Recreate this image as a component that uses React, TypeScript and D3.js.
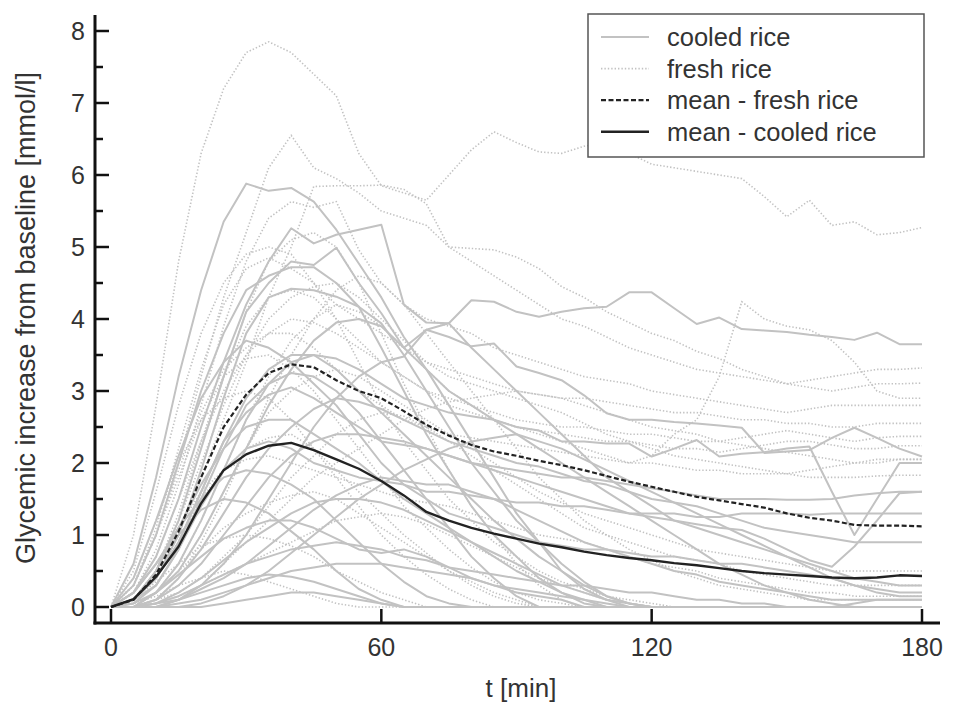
import React from "react";
import * as d3 from "d3";

// time points (min)
const minutes = [0, 5, 10, 15, 20, 25, 30, 35, 40, 45, 50, 55, 60, 65, 70, 75, 80, 85, 90, 95, 100, 105, 110, 115, 120, 125, 130, 135, 140, 145, 150, 155, 160, 165, 170, 175, 180];

const xTicks = [0, 60, 120, 180];
const yTicks = [0, 1, 2, 3, 4, 5, 6, 7, 8];
const yMinorTicks = [0.5, 1.5, 2.5, 3.5, 4.5, 5.5, 6.5, 7.5];

// cooled rice — individual curves
const cooled01 = [0, 0.6, 1.8, 3.2, 4.4, 5.35, 5.88, 5.78, 5.82, 5.63, 5.24, 4.77, 4.3, 3.75, 3.3, 2.8, 2.3, 1.8, 1.3, 0.9, 0.5, 0.25, 0.1, 0, 0, 0, 0, 0, 0, 0, 0, 0, 0, 0, 0, 0, 0];
const cooled02 = [0, 0.2, 0.7, 1.5, 2.5, 3.4, 4.2, 4.8, 5.26, 5.05, 5.17, 5.24, 5.31, 4.2, 3.95, 3.94, 4.26, 4.24, 4.1, 4.03, 4.1, 4.15, 4.17, 4.37, 4.37, 4.15, 3.93, 4.02, 3.86, 3.84, 3.82, 3.78, 3.75, 3.71, 3.81, 3.65, 3.65];
const cooled03 = [0, 0.1, 0.5, 1.2, 2.2, 3.2, 4.1, 4.5, 4.8, 4.75, 4.99, 4.5, 4.08, 3.6, 3.85, 3.75, 3.62, 3.66, 3.34, 3.25, 3.15, 2.94, 2.69, 2.6, 2.6, 2.57, 2.55, 2.52, 2.49, 2.14, 2.16, 2.18, 2.35, 2.49, 2.35, 2.2, 2.09];
const cooled04 = [0, 0.3, 1.0, 2.0, 3.0, 3.8, 4.4, 4.6, 4.72, 4.72, 4.5, 4.17, 3.6, 3.0, 2.4, 1.9, 1.4, 1.0, 0.7, 0.4, 0.2, 0.05, 0, 0, 0, 0, 0, 0, 0, 0, 0, 0, 0, 0, 0, 0, 0];
const cooled05 = [0, 0.1, 0.4, 1.0, 1.9, 2.9, 3.8, 4.3, 4.42, 4.4, 4.31, 4.17, 3.94, 3.5, 3.0, 2.5, 2.0, 1.6, 1.2, 0.9, 0.6, 0.35, 0.15, 0.05, 0, 0, 0, 0, 0, 0, 0, 0, 0, 0, 0, 0, 0];
const cooled06 = [0, 0, 0.2, 0.6, 1.2, 1.9, 2.6, 3.1, 3.4, 3.5, 3.45, 3.3, 3.1, 2.9, 2.8, 2.7, 2.65, 2.6, 2.5, 2.45, 2.3, 2.3, 2.27, 2.27, 2.09, 2.2, 2.32, 2.09, 2.13, 2.15, 2.2, 2.23, 1.6, 1.0, 1.5, 2.0, 2.0];
const cooled07 = [0, 0.1, 0.4, 0.9, 1.6, 2.3, 2.7, 2.95, 3.05, 2.9, 2.7, 2.5, 2.3, 2.25, 2.2, 2.1, 2.0, 1.95, 1.9, 1.85, 1.8, 1.8, 1.75, 1.7, 1.65, 1.6, 1.55, 1.5, 1.5, 1.5, 1.49, 1.49, 1.5, 1.55, 1.58, 1.6, 1.6];
const cooled08 = [0, 0.05, 0.3, 0.8, 1.4, 1.9, 2.2, 2.3, 2.2, 2.0, 1.9, 1.8, 1.75, 1.7, 1.6, 1.6, 1.55, 1.5, 1.45, 1.45, 1.4, 1.4, 1.35, 1.3, 1.3, 1.3, 1.25, 1.25, 1.3, 1.3, 1.3, 1.28, 1.3, 1.3, 1.3, 1.3, 1.3];
const cooled09 = [0, 0, 0.1, 0.3, 0.6, 1.0, 1.4, 1.8, 2.1, 2.3, 2.4, 2.4, 2.35, 2.3, 2.2, 2.1, 2.0, 1.9, 1.8, 1.7, 1.6, 1.5, 1.4, 1.3, 1.25, 1.2, 1.15, 1.1, 1.07, 0.95, 0.8, 0.65, 0.56, 0.84, 1.2, 1.58, 1.6];
const cooled10 = [0, 0.2, 0.6, 1.0, 1.35, 1.5, 1.45, 1.3, 1.05, 0.8, 0.5, 0.25, 0.1, 0, 0, 0, 0, 0, 0, 0, 0, 0, 0, 0, 0, 0, 0, 0, 0, 0, 0, 0, 0, 0, 0, 0, 0];
const cooled11 = [0, 0, 0, 0.1, 0.3, 0.6, 1.0, 1.5, 2.0, 2.5, 2.9, 3.2, 3.4, 3.48, 3.85, 3.94, 3.6, 3.3, 3.0, 2.7, 2.4, 2.1, 1.8, 1.6, 1.4, 1.2, 1.1, 1.0, 0.9, 0.8, 0.7, 0.6, 0.5, 0.4, 0.35, 0.3, 0.3];
const cooled12 = [0, 0.1, 0.3, 0.8, 1.5, 2.2, 2.8, 3.1, 3.25, 3.2, 3.0, 2.7, 2.3, 1.9, 1.5, 1.1, 0.7, 0.4, 0.15, 0, 0, 0, 0, 0, 0, 0, 0, 0, 0, 0, 0, 0, 0, 0, 0, 0, 0];
const cooled13 = [0, 0, 0.2, 0.5, 1.0, 1.6, 2.2, 2.8, 3.3, 3.7, 3.95, 4.0, 3.9, 3.6, 3.3, 3.0, 2.8, 2.6, 2.4, 2.2, 2.0, 1.8, 1.6, 1.4, 1.2, 1.0, 0.8, 0.6, 0.45, 0.3, 0.2, 0.1, 0.05, 0, 0, 0, 0];
const cooled14 = [0, 0, 0.05, 0.15, 0.3, 0.45, 0.6, 0.7, 0.8, 0.85, 0.9, 0.85, 0.8, 0.7, 0.65, 0.55, 0.5, 0.45, 0.4, 0.35, 0.3, 0.3, 0.25, 0.2, 0.2, 0.15, 0.1, 0.1, 0.05, 0.05, 0, 0, 0, 0, 0, 0, 0];
const cooled15 = [0, 0, 0.05, 0.1, 0.2, 0.3, 0.4, 0.45, 0.42, 0.35, 0.25, 0.15, 0.05, 0, 0, 0, 0, 0, 0, 0, 0, 0, 0, 0, 0, 0, 0, 0, 0, 0, 0, 0, 0, 0, 0, 0, 0];
const cooled16 = [0, 0.1, 0.5, 1.1, 1.7, 2.2, 2.5, 2.6, 2.6, 2.4, 2.2, 2.0, 1.75, 1.5, 1.3, 1.1, 0.9, 0.7, 0.5, 0.35, 0.2, 0.1, 0, 0, 0, 0, 0, 0, 0, 0, 0, 0, 0, 0, 0, 0, 0];
const cooled17 = [0, 0, 0, 0.1, 0.25, 0.4, 0.6, 0.85, 1.1, 1.35, 1.55, 1.7, 1.8, 1.75, 1.7, 1.7, 1.6, 1.5, 1.35, 1.2, 1.05, 0.9, 0.8, 0.7, 0.6, 0.5, 0.45, 0.35, 0.3, 0.25, 0.2, 0.15, 0.1, 0.1, 0.1, 0.1, 0.1];
const cooled18 = [0, 0.4, 1.2, 2.1, 2.9, 3.4, 3.7, 3.6, 3.4, 3.1, 2.8, 2.4, 2.0, 1.7, 1.5, 1.3, 1.2, 1.1, 1.0, 0.9, 0.85, 0.8, 0.8, 0.75, 0.7, 0.7, 0.65, 0.6, 0.6, 0.55, 0.5, 0.45, 0.4, 0.3, 0.25, 0.2, 0.2];
const cooled19 = [0, 0.05, 0.2, 0.45, 0.7, 0.95, 1.1, 1.2, 1.2, 1.1, 0.95, 0.8, 0.75, 0.8, 0.7, 0.55, 0.4, 0.3, 0.2, 0.15, 0.1, 0, 0, 0, 0, 0, 0, 0, 0, 0, 0, 0, 0, 0, 0, 0, 0];
const cooled20 = [0, 0, 0, 0, 0.05, 0.15, 0.3, 0.5, 0.75, 1.0, 1.25, 1.5, 1.7, 1.9, 2.05, 2.2, 2.3, 2.35, 2.4, 2.3, 2.2, 2.05, 1.9, 1.75, 1.6, 1.45, 1.3, 1.15, 1.0, 0.85, 0.7, 0.55, 0.4, 0.3, 0.2, 0.15, 0.15];
const cooled21 = [0, 0.1, 0.4, 0.9, 1.6, 2.3, 2.9, 3.3, 3.5, 3.5, 3.3, 3.0, 2.7, 2.4, 2.1, 1.8, 1.5, 1.2, 0.95, 0.7, 0.5, 0.3, 0.15, 0.05, 0, 0, 0, 0, 0, 0, 0, 0, 0, 0, 0, 0, 0];
const cooled22 = [0, 0.2, 0.6, 1.1, 1.5, 1.8, 1.9, 1.85, 1.7, 1.5, 1.2, 0.9, 0.6, 0.35, 0.15, 0.05, 0, 0, 0, 0, 0, 0, 0, 0, 0, 0, 0, 0, 0, 0, 0, 0, 0, 0, 0, 0, 0];
const cooled23 = [0, 0, 0.1, 0.4, 0.8, 1.3, 1.8, 2.2, 2.5, 2.75, 2.9, 2.85, 2.75, 2.6, 2.45, 2.3, 2.2, 2.1, 2.0, 1.95, 1.85, 1.75, 1.7, 1.6, 1.5, 1.45, 1.4, 1.3, 1.2, 1.1, 1.05, 1.0, 0.95, 0.9, 0.9, 0.9, 0.9];
const cooled24 = [0, 0, 0, 0.05, 0.1, 0.2, 0.3, 0.4, 0.5, 0.55, 0.6, 0.6, 0.6, 0.55, 0.5, 0.45, 0.4, 0.3, 0.25, 0.2, 0.15, 0.1, 0.05, 0, 0, 0, 0, 0, 0, 0, 0, 0, 0, 0, 0, 0, 0];
const cooled25 = [0, 0, 0, 0, 0, 0.05, 0.1, 0.15, 0.2, 0.2, 0.15, 0.1, 0.05, 0, 0, 0, 0, 0, 0, 0, 0, 0, 0, 0, 0, 0, 0, 0, 0, 0, 0, 0, 0, 0.05, 0.1, 0.1, 0.1];
const cooled26 = [0, 0, 0.05, 0.2, 0.4, 0.65, 0.9, 1.1, 1.3, 1.45, 1.5, 1.5, 1.45, 1.35, 1.2, 1.05, 0.9, 0.75, 0.6, 0.45, 0.3, 0.2, 0.1, 0.05, 0, 0, 0, 0, 0, 0, 0, 0, 0, 0, 0, 0, 0];

// fresh rice — individual curves
const fresh01 = [0, 1.0, 2.8, 4.8, 6.3, 7.2, 7.7, 7.85, 7.7, 7.4, 7.1, 6.3, 5.85, 5.75, 5.65, 6.0, 6.35, 6.6, 6.45, 6.32, 6.3, 6.4, 6.45, 6.3, 6.15, 6.1, 6.05, 6.0, 5.95, 5.7, 5.42, 5.65, 5.3, 5.35, 5.17, 5.2, 5.27];
const fresh02 = [0, 0.3, 1.0, 2.0, 3.2, 4.3, 5.2, 6.1, 6.55, 6.1, 5.95, 5.75, 5.5, 5.4, 5.3, 5.0, 4.8, 4.6, 4.4, 4.2, 4.0, 3.9, 3.75, 3.6, 3.5, 3.4, 3.3, 3.25, 3.2, 3.15, 3.1, 3.15, 3.2, 3.25, 3.3, 3.3, 3.32];
const fresh03 = [0, 0.1, 0.4, 1.0, 1.8, 2.6, 3.4, 4.3, 5.0, 5.84, 5.85, 5.85, 5.86, 5.8, 5.6, 5.0, 4.98, 4.96, 4.86, 4.7, 4.45, 4.3, 4.1, 3.95, 3.8, 3.7, 3.55, 3.45, 3.3, 3.2, 3.1, 3.05, 3.0, 3.05, 3.1, 3.1, 3.11];
const fresh04 = [0, 0.2, 0.8, 1.7, 2.8, 3.9, 4.8, 5.4, 5.63, 5.55, 5.63, 4.96, 4.5, 4.2, 4.0, 3.9, 3.8, 3.6, 3.5, 3.4, 3.3, 3.2, 3.15, 3.1, 3.0, 2.95, 2.9, 2.85, 2.8, 2.75, 2.7, 2.75, 2.8, 2.8, 2.8, 2.8, 2.8];
const fresh05 = [0, 0.1, 0.5, 1.2, 2.2, 3.2, 4.1, 4.8, 5.1, 5.2, 5.0, 4.5, 3.8, 3.1, 2.5, 1.9, 1.4, 1.0, 0.6, 0.3, 0.1, 0, 0, 0, 0, 0, 0, 0, 0, 0, 0, 0, 0, 0, 0, 0, 0];
const fresh06 = [0, 0.3, 1.1, 2.2, 3.3, 4.2, 4.7, 4.85, 4.7, 4.5, 4.2, 4.0, 3.8, 3.6, 3.4, 3.3, 3.2, 3.1, 3.0, 2.95, 2.9, 2.9, 2.85, 2.8, 2.75, 2.7, 2.7, 2.65, 2.6, 2.6, 2.55, 2.55, 2.5, 2.5, 2.55, 2.55, 2.55];
const fresh07 = [0, 0.1, 0.5, 1.3, 2.3, 3.2, 3.9, 4.3, 4.4, 4.3, 4.0, 3.7, 3.4, 3.2, 3.0, 2.9, 2.8, 2.7, 2.6, 2.55, 2.5, 2.5, 2.45, 2.4, 2.4, 2.35, 2.3, 2.3, 2.35, 2.4, 2.45, 2.4, 2.35, 2.3, 2.35, 2.37, 2.37];
const fresh08 = [0, 0, 0.2, 0.6, 1.2, 1.9, 2.6, 3.2, 3.7, 4.0, 4.2, 4.1, 3.9, 3.6, 3.3, 3.0, 2.8, 2.6, 2.5, 2.4, 2.3, 2.2, 2.1, 2.0, 2.1, 2.4, 2.6, 3.2, 4.24, 4.0, 3.9, 3.85, 3.7, 3.4, 3.0, 2.9, 2.9];
const fresh09 = [0, 0.2, 0.7, 1.5, 2.3, 3.0, 3.5, 3.8, 4.0, 3.95, 3.8, 3.6, 3.4, 3.2, 3.0, 2.8, 2.7, 2.6, 2.5, 2.45, 2.4, 2.35, 2.3, 2.3, 2.25, 2.2, 2.2, 2.15, 2.2, 2.25, 2.3, 2.3, 2.25, 2.2, 2.2, 2.24, 2.24];
const fresh10 = [0, 0.3, 1.0, 1.9, 2.7, 3.3, 3.6, 3.8, 3.8, 3.6, 3.3, 3.0, 2.8, 2.6, 2.5, 2.4, 2.35, 2.3, 2.25, 2.2, 2.15, 2.1, 2.05, 2.0, 2.0, 1.95, 1.9, 1.9, 1.85, 1.85, 1.85, 1.8, 1.8, 1.8, 1.82, 1.83, 1.83];
const fresh11 = [0, 0.3, 1.0, 1.8, 2.6, 3.2, 3.45, 3.5, 3.3, 3.0, 2.6, 2.2, 1.8, 1.4, 1.1, 0.8, 0.55, 0.35, 0.2, 0.1, 0.05, 0, 0, 0, 0, 0, 0, 0, 0, 0, 0, 0, 0, 0, 0, 0, 0];
const fresh12 = [0, 0, 0.2, 0.5, 1.0, 1.6, 2.2, 2.7, 3.0, 3.2, 3.3, 3.2, 3.0, 2.8, 2.6, 2.4, 2.2, 2.0, 1.8, 1.6, 1.45, 1.3, 1.2, 1.1, 1.0, 0.9, 0.8, 0.75, 0.7, 0.65, 0.6, 0.55, 0.5, 0.5, 0.5, 0.5, 0.5];
const fresh13 = [0, 0.4, 1.2, 2.0, 2.6, 2.9, 3.0, 2.9, 2.6, 2.2, 1.8, 1.4, 1.0, 0.7, 0.45, 0.25, 0.1, 0, 0, 0, 0, 0, 0, 0, 0, 0, 0, 0, 0, 0, 0, 0, 0, 0, 0, 0, 0];
const fresh14 = [0, 0, 0.1, 0.2, 0.4, 0.7, 1.0, 1.4, 1.8, 2.1, 2.4, 2.6, 2.7, 2.65, 2.5, 2.3, 2.1, 1.9, 1.7, 1.5, 1.3, 1.1, 1.0, 0.9, 0.8, 0.7, 0.65, 0.6, 0.5, 0.45, 0.4, 0.35, 0.3, 0.3, 0.3, 0.3, 0.3];
const fresh15 = [0, 0.1, 0.4, 0.9, 1.5, 1.9, 2.2, 2.35, 2.4, 2.2, 1.9, 1.6, 1.3, 1.0, 0.75, 0.5, 0.3, 0.15, 0.05, 0, 0, 0, 0, 0, 0, 0, 0, 0, 0, 0, 0, 0, 0, 0, 0, 0, 0];
const fresh16 = [0, 0.2, 0.6, 1.1, 1.6, 1.9, 2.05, 2.1, 2.0, 1.9, 1.8, 1.7, 1.6, 1.5, 1.45, 1.4, 1.3, 1.2, 1.1, 1.0, 0.95, 0.9, 0.8, 0.7, 0.6, 0.55, 0.5, 0.4, 0.35, 0.3, 0.25, 0.2, 0.2, 0.15, 0.15, 0.15, 0.15];
const fresh17 = [0, 0.05, 0.2, 0.5, 0.8, 1.1, 1.3, 1.45, 1.55, 1.6, 1.5, 1.3, 1.1, 0.9, 0.7, 0.5, 0.35, 0.2, 0.1, 0, 0, 0, 0, 0, 0, 0, 0, 0, 0, 0, 0, 0, 0, 0, 0, 0, 0];
const fresh18 = [0, 0.1, 0.35, 0.6, 0.85, 0.95, 1.0, 0.95, 0.85, 0.7, 0.5, 0.35, 0.2, 0.1, 0, 0, 0, 0, 0, 0, 0, 0, 0, 0, 0, 0, 0, 0, 0, 0, 0, 0, 0, 0, 0, 0, 0];
const fresh19 = [0, 0, 0, 0.1, 0.3, 0.6, 0.9, 1.2, 1.5, 1.8, 2.0, 2.2, 2.4, 2.6, 2.75, 2.85, 2.9, 2.95, 3.0, 2.95, 2.9, 2.8, 2.7, 2.6, 2.5, 2.45, 2.4, 2.3, 2.25, 2.2, 2.15, 2.1, 2.05, 2.0, 2.0, 2.05, 2.05];
const fresh20 = [0, 0, 0.1, 0.4, 0.9, 1.5, 2.2, 2.9, 3.5, 4.0, 4.4, 4.6, 4.5, 4.2, 3.8, 3.4, 3.0, 2.6, 2.2, 1.8, 1.5, 1.2, 1.0, 0.8, 0.65, 0.5, 0.4, 0.3, 0.25, 0.2, 0.15, 0.1, 0.1, 0.1, 0.1, 0.1, 0.1];
const fresh21 = [0, 0.05, 0.15, 0.3, 0.4, 0.5, 0.45, 0.35, 0.25, 0.15, 0.05, 0, 0, 0, 0, 0, 0, 0, 0, 0, 0, 0, 0, 0, 0, 0, 0, 0, 0, 0, 0, 0, 0, 0, 0, 0, 0];
const fresh22 = [0, 0.5, 1.6, 2.8, 3.8, 4.5, 4.9, 5.0, 4.9, 4.5, 4.0, 3.4, 2.8, 2.3, 1.9, 1.5, 1.2, 0.9, 0.7, 0.5, 0.35, 0.25, 0.15, 0.1, 0.05, 0, 0, 0, 0, 0, 0, 0, 0, 0, 0, 0, 0];
const fresh23 = [0, 0.1, 0.5, 1.2, 2.0, 2.8, 3.5, 4.0, 4.3, 4.45, 4.5, 4.3, 4.0, 3.7, 3.4, 3.2, 3.1, 3.0, 2.9, 2.8, 2.7, 2.55, 2.4, 2.3, 2.2, 2.1, 2.05, 2.0, 1.95, 1.9, 1.85, 1.9, 1.95, 2.0, 2.05, 2.05, 2.05];
const fresh24 = [0, 0, 0.05, 0.15, 0.3, 0.45, 0.6, 0.75, 0.9, 1.05, 1.2, 1.25, 1.3, 1.25, 1.15, 1.0, 0.85, 0.7, 0.55, 0.4, 0.3, 0.2, 0.1, 0.05, 0, 0, 0, 0, 0, 0, 0, 0, 0, 0, 0, 0, 0];

// group means
const meanFresh = [0, 0.1, 0.45, 1.05, 1.8, 2.5, 2.95, 3.25, 3.37, 3.33, 3.15, 3.0, 2.9, 2.72, 2.53, 2.38, 2.25, 2.16, 2.1, 2.03, 1.97, 1.9, 1.82, 1.74, 1.67, 1.6, 1.53, 1.48, 1.43, 1.38, 1.3, 1.24, 1.2, 1.14, 1.13, 1.13, 1.12];
const meanCooled = [0, 0.11, 0.42, 0.84, 1.44, 1.9, 2.12, 2.24, 2.28, 2.18, 2.05, 1.92, 1.75, 1.55, 1.32, 1.2, 1.1, 1.02, 0.95, 0.88, 0.83, 0.77, 0.72, 0.68, 0.65, 0.61, 0.58, 0.54, 0.5, 0.47, 0.45, 0.43, 0.41, 0.4, 0.41, 0.44, 0.43];

const cooledSeries = [cooled01, cooled02, cooled03, cooled04, cooled05, cooled06, cooled07, cooled08, cooled09, cooled10, cooled11, cooled12, cooled13, cooled14, cooled15, cooled16, cooled17, cooled18, cooled19, cooled20, cooled21, cooled22, cooled23, cooled24, cooled25, cooled26];
const freshSeries = [fresh01, fresh02, fresh03, fresh04, fresh05, fresh06, fresh07, fresh08, fresh09, fresh10, fresh11, fresh12, fresh13, fresh14, fresh15, fresh16, fresh17, fresh18, fresh19, fresh20, fresh21, fresh22, fresh23, fresh24];

const legendLabels = ["cooled rice", "fresh rice", "mean - fresh rice", "mean - cooled rice"];

const W = 966;
const H = 710;
const FONT = "'Liberation Sans', Arial, Helvetica, sans-serif";
const GRAY = "#c2c2c2";
const TEXT = "#333";

export default function App() {
  const x = d3.scaleLinear().domain([0, 180]).range([111, 922]);
  const y = d3.scaleLinear().domain([0, 8]).range([607, 31]);
  const line = d3
    .line<number>()
    .x((_, i) => x(minutes[i]))
    .y((d) => y(d));

  const axisX = 95;
  const axisY = 623;

  const legendStyles = [
    { stroke: GRAY, width: 2, dash: "none" },
    { stroke: GRAY, width: 1.6, dash: "1.4 2" },
    { stroke: "#222", width: 2.2, dash: "5 2.5" },
    { stroke: "#222", width: 2.4, dash: "none" },
  ];

  return (
    <svg
      width={W}
      height={H}
      viewBox={`0 0 ${W} ${H}`}
      style={{ position: "absolute", left: 0, top: 0, background: "#fff" }}
      fontFamily={FONT}
    >
      <rect x={0} y={0} width={W} height={H} fill="#fff" />
      {/* individual curves */}
      <g fill="none">
        {freshSeries.map((s, i) => (
          <path key={"f" + i} d={line(s) || ""} stroke={GRAY} strokeWidth={1.6} strokeDasharray="1.4 2" />
        ))}
        {cooledSeries.map((s, i) => (
          <path key={"c" + i} d={line(s) || ""} stroke={GRAY} strokeWidth={2} strokeLinejoin="round" />
        ))}
      </g>
      {/* means */}
      <path d={line(meanFresh) || ""} fill="none" stroke="#222" strokeWidth={2.2} strokeDasharray="5 2.5" />
      <path d={line(meanCooled) || ""} fill="none" stroke="#222" strokeWidth={2.4} strokeLinejoin="round" />

      {/* axes */}
      <line x1={axisX} x2={axisX} y1={15} y2={axisY + 1.5} stroke="#111" strokeWidth={3} />
      <line x1={axisX - 1.5} x2={940} y1={axisY} y2={axisY} stroke="#111" strokeWidth={3} />
      {yTicks.map((t) => (
        <g key={"yt" + t}>
          <line x1={axisX} x2={axisX + 14} y1={y(t)} y2={y(t)} stroke="#111" strokeWidth={2.5} />
          <text x={85} y={y(t)} dy="0.36em" textAnchor="end" fontSize={25} fill={TEXT}>
            {t}
          </text>
        </g>
      ))}
      {yMinorTicks.map((t) => (
        <line key={"ym" + t} x1={axisX} x2={axisX + 8} y1={y(t)} y2={y(t)} stroke="#111" strokeWidth={2.5} />
      ))}
      {xTicks.map((t) => (
        <g key={"xt" + t}>
          <line x1={x(t)} x2={x(t)} y1={axisY} y2={axisY - 14} stroke="#111" strokeWidth={2.5} />
          <text x={x(t)} y={656} textAnchor="middle" fontSize={25} fill={TEXT}>
            {t}
          </text>
        </g>
      ))}
      <text x={521} y={697} textAnchor="middle" fontSize={26} fill={TEXT}>
        t [min]
      </text>
      <text
        transform={`translate(35, 318) rotate(-90)`}
        textAnchor="middle"
        fontSize={27}
        fill={TEXT}
      >
        Glycemic increase from baseline [mmol/l]
      </text>

      {/* legend */}
      <rect x={588} y={14} width={336} height={143} fill="#fff" stroke="#555" strokeWidth={1.5} />
      {legendLabels.map((lab, i) => {
        const ly = 37 + i * 31.6;
        const st = legendStyles[i];
        return (
          <g key={lab}>
            <line x1={601} x2={649} y1={ly} y2={ly} stroke={st.stroke} strokeWidth={st.width} strokeDasharray={st.dash} />
            <text x={667} y={ly} dy="0.36em" fontSize={25.5} fill={TEXT}>
              {lab}
            </text>
          </g>
        );
      })}
    </svg>
  );
}
